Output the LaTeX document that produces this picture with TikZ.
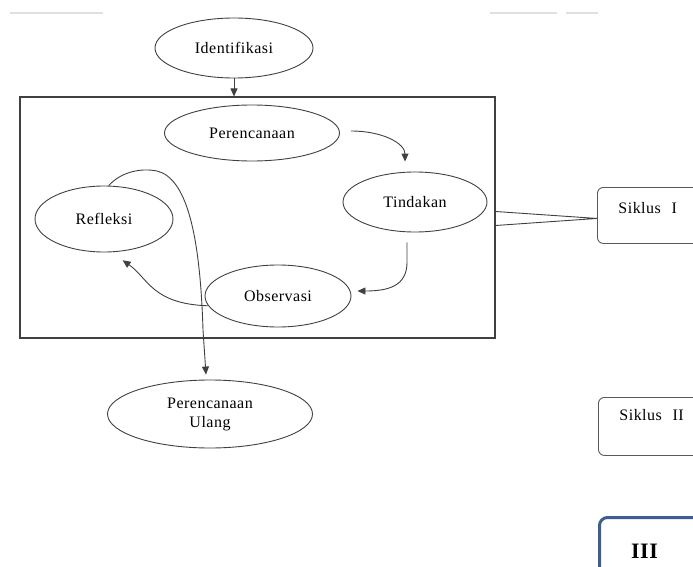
\documentclass[tikz,border=0pt]{standalone}
\usepackage{fontspec}
\setmainfont{Liberation Serif}[LetterSpace=3]
\usetikzlibrary{shapes.geometric,arrows.meta}
\definecolor{biru}{HTML}{3C5F8F}
\begin{document}
\begin{tikzpicture}[x=1pt,y=-1pt,
  tahap/.style={ellipse,draw=black!75,line width=0.9pt,inner sep=0pt,font=\fontsize{16}{19}\selectfont,align=center},
  panah/.style={draw=black!75,line width=0.9pt,-{Triangle[length=8pt,width=7pt]}},
  siklus/.style={anchor=north west,rounded corners=6pt,draw=black!65,line width=0.9pt,inner xsep=21pt,inner ysep=0pt,text width=78pt,align=left,font=\fontsize{16}{19}\selectfont}]
\useasboundingbox (0,0) rectangle (693,567);
\clip (0,0) rectangle (693,567);
% faint scan marks at the top
\draw[black!12, line width=1.5pt] (10,13) -- (103,13) (490,13) -- (557,13) (566,13) -- (598,13);
% stages
\node[tahap, minimum width=158pt, minimum height=60pt] (ident) at (234,48) {Identifikasi};
\node[draw=black!75, line width=1.1pt, minimum width=475pt, minimum height=241pt, inner sep=0pt] (box) at (257.5,217.5) {};
\node[tahap, minimum width=175pt, minimum height=56pt] (peren) at (252,133) {Perencanaan};
\node[tahap, minimum width=144pt, minimum height=60pt] (tind) at (415,202) {Tindakan};
\node[tahap, minimum width=146pt, minimum height=62pt] (obs) at (278,296) {Observasi};
\node[tahap, minimum width=138pt, minimum height=66pt] (refl) at (104,219) {Refleksi};
\node[tahap, minimum width=205pt, minimum height=68pt] (ulang) at (210,414) {Perencanaan\\Ulang};
% cycle labels
\node[siklus, text height=26pt, text depth=30pt] (s1) at (597,187) {Siklus\ \ I};
\node[siklus, text height=23pt, text depth=35pt] (s2) at (598,397) {Siklus\ \ II};
\node[anchor=north west, rounded corners=8pt, draw=biru, line width=3pt, inner sep=0pt,
      minimum width=120pt, minimum height=70pt, text height=41pt, text depth=29pt,
      font=\fontsize{22}{24}\selectfont\bfseries] (s3) at (598,516) {\hspace*{-8pt}III\hspace*{22pt}};
% connectors
\draw[panah] (ident.south) -- (ident.south |- box.north);
\draw[panah] ([shift={(11pt,2pt)}]peren.east) .. controls +(32,0) and +(0,-18) .. ([shift={(-10pt,10pt)}]tind.north);
\draw[panah] ([shift={(-8pt,-10pt)}]tind.south) -- ++(0,20) .. controls +(0,24) and +(30,0) .. ([shift={(6pt,5pt)}]obs.east);
\draw[panah] (obs.188) .. controls (152,304) and (148,278) .. ([yshift=-9pt]refl.-60);
\draw[panah] (refl.82) .. controls (122,171) and (142,168) .. (157,171)
  .. controls (186,178) and (200,232) .. (203,330) -- ([shift={(-4pt,5pt)}]ulang.north);
\draw[black!75, line width=0.9pt] ([yshift=6pt]box.east) -- ([yshift=-3pt]s1.west) -- ([yshift=-8pt]box.east);
\end{tikzpicture}
\end{document}
